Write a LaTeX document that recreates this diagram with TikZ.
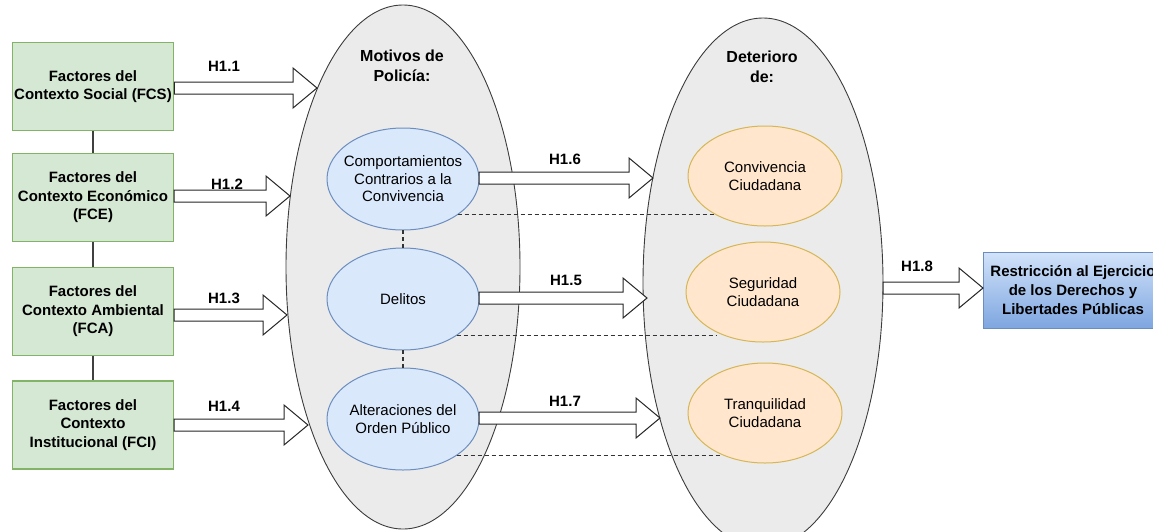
\documentclass[tikz,border=0pt]{standalone}
\usepackage{fontspec}
\setmainfont{Liberation Sans}
\usetikzlibrary{calc,shapes.geometric}

\definecolor{factorfill}{HTML}{D5E8D4}
\definecolor{factorline}{HTML}{82B366}
\definecolor{motivefill}{HTML}{DAE8FC}
\definecolor{motiveline}{HTML}{6C8EBF}
\definecolor{harmfill}{HTML}{FFE6CC}
\definecolor{harmline}{HTML}{D6B656}
\definecolor{groupfill}{HTML}{EBEBEB}
\definecolor{groupline}{HTML}{3C3C3C}
\definecolor{resulttop}{HTML}{D2E3FA}
\definecolor{resultbottom}{HTML}{7EA6E0}
\definecolor{linkgray}{HTML}{404040}

\tikzset{
  factor/.style={draw=factorline, fill=factorfill, line width=1.2pt,
    minimum width=161pt, minimum height=88pt, inner sep=2pt,
    align=center, font=\bfseries\fontsize{15}{18.5}\selectfont},
  group/.style={ellipse, draw=groupline, fill=groupfill, line width=0.9pt,
    inner sep=0pt, outer sep=0pt},
  grouptitle/.style={align=center, font=\bfseries\fontsize{16}{20}\selectfont},
  motive/.style={ellipse, draw=motiveline, fill=motivefill, line width=1pt,
    minimum width=152pt, minimum height=102pt, inner xsep=-12pt, inner ysep=-6pt,
    outer sep=0pt, align=center, font=\fontsize{15}{17.5}\selectfont},
  harm/.style={ellipse, draw=harmline, fill=harmfill, line width=1pt,
    minimum width=154pt, minimum height=100pt, inner xsep=-12pt, inner ysep=-6pt,
    outer sep=0pt, align=center, font=\fontsize{15}{17.5}\selectfont},
  result/.style={draw=motiveline, top color=resulttop, bottom color=resultbottom,
    line width=1pt, minimum width=180pt, minimum height=76pt, inner sep=2pt,
    align=center, font=\bfseries\fontsize{15}{19}\selectfont},
  hlabel/.style={font=\bfseries\fontsize{15}{18}\selectfont},
  link/.style={draw=linkgray, line width=1.2pt},
  dashlink/.style={draw=black!80, line width=1.2pt, dash pattern=on 4pt off 3pt},
  % hollow block arrow: shaft starts at the x of the source, runs level with the target
  blockarrow/.style={draw=black!85, fill=white, line width=1pt, line join=miter,
    to path={let \p1=(\tikztostart), \p2=(\tikztotarget) in
      (\x1,\y2+6pt) -- (\x2-24pt,\y2+6pt) -- (\x2-24pt,\y2+20pt) -- (\x2,\y2)
      -- (\x2-24pt,\y2-20pt) -- (\x2-24pt,\y2-6pt) -- (\x1,\y2-6pt) -- cycle}},
}

\begin{document}
\begin{tikzpicture}[x=1pt, y=-1pt]
  \useasboundingbox (0,0) rectangle (1153,531);
  \clip (0,0) rectangle (1153,531);

  % the two groups
  \node[group, minimum width=234pt, minimum height=524pt] (M) at (403,267) {};
  \node[group, minimum width=240pt, minimum height=530pt] (D) at (763,283) {};
  \node[grouptitle] (Mtitle) at (402,66) {Motivos de\\Policía:};
  \node[grouptitle] (Dtitle) at (762,67) {Deterioro\\de:};

  % context factors
  \node[factor] (FCS) at (93,86.5) {Factores del\\Contexto Social (FCS)};
  \node[factor] (FCE) at (93,197.5) {Factores del\\Contexto Económico\\(FCE)};
  \node[factor] (FCA) at (93,311.5) {Factores del\\Contexto Ambiental\\(FCA)};
  \node[factor] (FCI) at (93,425) {Factores del\\Contexto\\Institucional (FCI)};
  \draw[link] (FCS.south) -- (FCE.north);
  \draw[link] (FCE.south) -- (FCA.north);
  \draw[link] (FCA.south) -- (FCI.north);

  % police motives
  \node[motive] (E1) at (403,179) {Comportamientos\\Contrarios a la\\Convivencia};
  \node[motive] (E2) at (403,299) {Delitos};
  \node[motive] (E3) at (403,419) {Alteraciones del\\Orden Público};
  \draw[dashlink] (E1.south) -- (E2.north);
  \draw[dashlink] (E2.south) -- (E3.north);

  % deteriorated aspects
  \node[harm] (O1) at (765,176) {Convivencia\\Ciudadana};
  \node[harm] (O2) at (763,292) {Seguridad\\Ciudadana};
  \node[harm] (O3) at (765,413) {Tranquilidad\\Ciudadana};

  % level links between motives and aspects
  \draw[dashlink] (E1.-33) -- (O1.-143 |- E1.-33);
  \draw[dashlink] (E2.-34) -- (O2.-140 |- E2.-34);
  \draw[dashlink] (E3.-34) -- (O3.-138 |- E3.-34);

  % outcome
  \node[result] (R) at (1073,290) {Restricción al Ejercicio\\de los Derechos y\\Libertades Públicas};

  % arrow tips on the group borders
  \coordinate (t11) at (317,88);
  \coordinate (t12) at (290,196);
  \coordinate (t13) at (287,315);
  \coordinate (t14) at (308,425);
  \coordinate (t16) at (653,178);
  \coordinate (t15) at (647,298);
  \coordinate (t17) at (660,418);
  \coordinate (t18) at (983,288);

  \draw[blockarrow] (FCS.east) to (t11);
  \draw[blockarrow] (FCE.east) to (t12);
  \draw[blockarrow] (FCA.east) to (t13);
  \draw[blockarrow] (FCI.east) to (t14);
  \draw[blockarrow] (E1.east) to (t16);
  \draw[blockarrow] (E2.east) to (t15);
  \draw[blockarrow] (E3.east) to (t17);
  \draw[blockarrow] (D.east) to (t18);

  % hypothesis labels
  \node[hlabel] (h11) at (224,66) {H1.1};
  \node[hlabel] (h12) at (227,184) {H1.2};
  \node[hlabel] (h13) at (224,298) {H1.3};
  \node[hlabel] (h14) at (224,406) {H1.4};
  \node[hlabel] (h16) at (565,159) {H1.6};
  \node[hlabel] (h15) at (566,280) {H1.5};
  \node[hlabel] (h17) at (565,401) {H1.7};
  \node[hlabel] (h18) at (917,266) {H1.8};
\end{tikzpicture}
\end{document}
